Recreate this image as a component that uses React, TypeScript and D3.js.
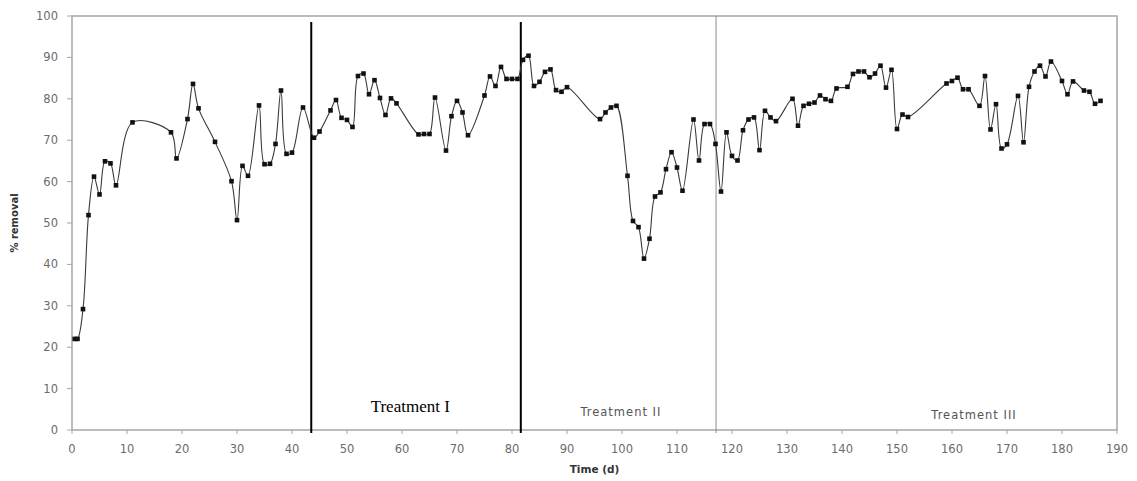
import React from "react";
import * as d3 from "d3";

const width = 1137;
const height = 481;
const margin = { left: 72, right: 20, top: 16, bottom: 51 };

const days = [
  0.5, 1, 2, 3, 4, 5, 6, 7, 8, 11, 18, 19, 21, 22, 23, 26, 29, 30, 31, 32, 34, 35, 36, 37, 38, 39, 40, 42,
  44, 45, 47, 48, 49, 50, 51, 52, 53, 54, 55, 56, 57, 58, 59, 63, 64, 65, 66, 68, 69, 70, 71, 72, 75, 76,
  77, 78, 79, 80, 81, 82, 83, 84, 85, 86, 87, 88, 89, 90, 96, 97, 98, 99, 101, 102, 103, 104, 105, 106,
  107, 108, 109, 110, 111, 113, 114, 115, 116, 117, 118, 119, 120, 121, 122, 123, 124, 125, 126, 127,
  128, 131, 132, 133, 134, 135, 136, 137, 138, 139, 141, 142, 143, 144, 145, 146, 147, 148, 149, 150,
  151, 152, 159, 160, 161, 162, 163, 165, 166, 167, 168, 169, 170, 172, 173, 174, 175, 176, 177, 178,
  180, 181, 182, 184, 185, 186, 187,
];

const removal = [
  22, 22, 29.2, 51.9, 61.2, 56.9, 64.9, 64.4, 59.1, 74.3, 71.9, 65.6, 75.1, 83.6, 77.7, 69.6, 60.1, 50.7,
  63.8, 61.4, 78.4, 64.2, 64.3, 69.1, 82, 66.7, 67, 77.9,
  70.6, 72.1, 77.2, 79.7, 75.4, 74.9, 73.2, 85.5, 86.1, 81.1, 84.5, 80.2, 76.1, 80.1, 78.9, 71.4, 71.5,
  71.5, 80.3, 67.5, 75.8, 79.5, 76.7, 71.2, 80.8, 85.4,
  83.1, 87.7, 84.8, 84.8, 84.8, 89.4, 90.4, 83.1, 84.1, 86.5, 87.1, 82.1, 81.7, 82.8, 75.1, 76.7, 77.9,
  78.3, 61.4, 50.5, 49.0, 41.4, 46.2, 56.4,
  57.4, 63, 67.1, 63.4, 57.8, 75, 65.1, 73.9, 73.9, 69.1, 57.6, 71.9, 66.2, 65.1, 72.4, 75, 75.5, 67.6,
  77.1, 75.5,
  74.6, 80, 73.5, 78.3, 78.8, 79.1, 80.8, 79.9, 79.5, 82.5, 82.9, 86, 86.6, 86.6, 85.2, 86.1, 88, 82.7,
  87, 72.7,
  76.2, 75.6, 83.7, 84.3, 85.1, 82.3, 82.3, 78.3, 85.5, 72.6, 78.7, 68, 69, 80.7, 69.5, 82.9, 86.6, 88,
  85.4, 89,
  84.3, 81.1, 84.2, 82, 81.7, 78.8, 79.5,
];

// phase boundaries (days)
const boundaries = [43.5, 81.6, 117.1];
const xTicks = d3.range(0, 191, 10);
const yTicks = d3.range(0, 101, 10);

const font = "'DejaVu Sans', Verdana, sans-serif";

export default function App() {
  const x = d3.scaleLinear().domain([0, 190]).range([margin.left, width - margin.right]);
  const y = d3.scaleLinear().domain([0, 100]).range([height - margin.bottom, margin.top]);

  const points = days.map((d, i) => ({ day: d, value: removal[i] }));
  const line = d3
    .line<{ day: number; value: number }>()
    .x((d) => x(d.day))
    .y((d) => y(d.value))
    .curve(d3.curveCatmullRom.alpha(0.5));

  const x0 = x(0);
  const x1 = x(190);
  const y0 = y(0);
  const y1 = y(100);

  return (
    <svg
      width={width}
      height={height}
      style={{ position: "absolute", left: 0, top: 0, background: "#fff" }}
    >
      {/* frame */}
      <rect x={x0} y={y1} width={x1 - x0} height={y0 - y1} fill="none" stroke="#a6a6a6" strokeWidth={1.5} />

      {/* y axis */}
      {yTicks.map((t) => (
        <g key={t}>
          <line x1={x0 - 5} x2={x0} y1={y(t)} y2={y(t)} stroke="#a6a6a6" />
          <text x={x0 - 14} y={y(t) + 4} textAnchor="end" fontSize={11.5} fontFamily={font} fill="#6b6b6b">
            {t}
          </text>
        </g>
      ))}

      {/* x axis */}
      {xTicks.map((t) => (
        <g key={t}>
          <line x1={x(t)} x2={x(t)} y1={y0} y2={y0 + 4} stroke="#a6a6a6" />
          <text x={x(t)} y={y0 + 23} textAnchor="middle" fontSize={11.5} fontFamily={font} fill="#6b6b6b">
            {t}
          </text>
        </g>
      ))}

      <text
        transform={`translate(18,${(y0 + y1) / 2}) rotate(-90)`}
        textAnchor="middle"
        fontSize={10}
        fontWeight="bold"
        fontFamily={font}
        fill="#333"
      >
        % removal
      </text>
      <text x={x(95)} y={y0 + 43} textAnchor="middle" fontSize={10.5} fontWeight="bold" fontFamily={font} fill="#333">
        Time (d)
      </text>

      {/* treatment boundaries */}
      <line x1={x(boundaries[0])} x2={x(boundaries[0])} y1={y1 + 6} y2={y0 + 3} stroke="#000" strokeWidth={2} />
      <line x1={x(boundaries[1])} x2={x(boundaries[1])} y1={y1 + 6} y2={y0 + 3} stroke="#000" strokeWidth={2} />
      <line x1={x(boundaries[2])} x2={x(boundaries[2])} y1={y1} y2={y0 + 3} stroke="#8c8c8c" strokeWidth={1} />

      <text x={x(61.5)} y={y0 - 18} textAnchor="middle" fontSize={17} fontFamily="'Liberation Serif', 'Times New Roman', serif" fill="#000">
        Treatment I
      </text>
      <text x={x(99.8)} y={y0 - 14} textAnchor="middle" fontSize={11.5} letterSpacing={1} fontFamily={font} fill="#555">
        Treatment II
      </text>
      <text x={x(164)} y={y0 - 11} textAnchor="middle" fontSize={11.5} letterSpacing={1} fontFamily={font} fill="#555">
        Treatment III
      </text>

      {/* series */}
      <path d={line(points) ?? ""} fill="none" stroke="#3a3a3a" strokeWidth={1.1} />
      {points.map((p, i) => (
        <rect key={i} x={x(p.day) - 2.3} y={y(p.value) - 2.3} width={4.6} height={4.6} fill="#111" />
      ))}
    </svg>
  );
}
